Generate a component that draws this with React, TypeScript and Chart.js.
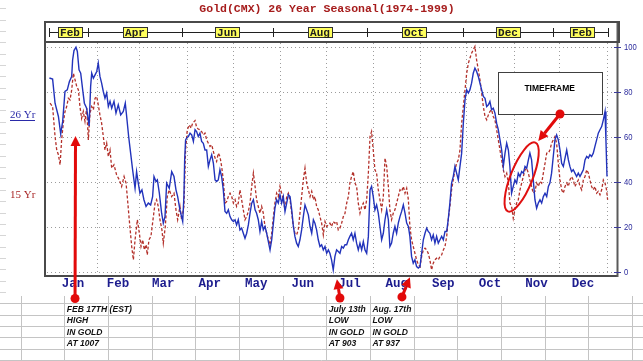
import React, { useEffect, useRef } from "react";
import { Chart, registerables } from "chart.js";

Chart.register(...registerables);

const W = 643;
const H = 361;

const chartTitle = "Gold(CMX) 26 Year Seasonal(1974-1999)";
const monthNames = ["Jan", "Feb", "Mar", "Apr", "May", "Jun", "Jul", "Aug", "Sep", "Oct", "Nov", "Dec"];
const monthEnds = [31, 59, 90, 120, 151, 181, 212, 243, 273, 304, 334, 365];
const yTicks = [0, 20, 40, 60, 80, 100];

const bandLabels = ["Feb", "Apr", "Jun", "Aug", "Oct", "Dec", "Feb"];
const bandCenters = [13.4, 56.3, 116.6, 177.5, 239.1, 300.5, 348.5];
const bandTicks = [0, 25.6, 87, 146.3, 208.3, 270.9, 329.6, 365.8];

// 26 Yr seasonal (blue, solid) — x = day of year, y = index 0..100
const blueDays = [
  0, 2.1, 3.7, 5.9, 7.4, 8.7, 10.2, 11.7, 13.1, 14.6,
  15.2, 16.1, 17.4, 18.3, 19.4, 20.5, 21.8, 22.9, 24.4, 26,
  27, 27.7, 28.8, 29.9, 31, 32, 33.1, 34.2, 35.3, 36.4,
  37.5, 38.6, 39.7, 40.8, 42.3, 43.6, 45.1, 46.7, 48.4, 49.7,
  50.6, 51.9, 53.2, 54.5, 56.1, 57.1, 58.2, 59.3, 60.6, 61.9,
  63.3, 64.8, 66.3, 67.6, 68.5, 69.8, 70.7, 72, 73.5, 74.6,
  75.7, 76.8, 78.5, 80.1, 81.6, 82.9, 84, 85.5, 87.3, 88.1,
  88.6, 89.2,
  89.9, 91, 92.1, 93.2, 94.3, 95.4, 96.4, 97.5, 98.6, 99.7,
  100.8, 101.9, 103, 104.1, 105.2, 106.3, 107.4, 108.5, 109.5, 110.6,
  111.7, 112.8, 113.9, 115, 116.1, 117.2, 118.3, 119.4, 120.5, 121.6,
  122.6, 123.7, 124.8, 125.9, 127, 128.1, 129.2, 130.3, 131.4, 132.5,
  133.6, 134.7, 135.7, 136.8, 137.9, 139, 140.1, 141.2, 142.3, 143.4,
  144.5, 145.6, 146.7, 147.7, 148.8, 149.9, 151, 152.1, 153.2, 154.3,
  155.4, 156.5, 157.6, 158.7, 159.8, 160.8, 161.9, 163, 164.1, 165.2,
  166.3, 167.4, 168.5, 169.6, 170.7, 171.8, 172.9, 173.9, 175, 176.1,
  177.2, 178.3, 179.4, 180.5, 181.6, 182.7, 183.7, 184.8, 185.9, 187,
  188.1, 189.2, 190.3, 191.4, 192.5, 193.6, 194.7, 195.8, 196.8, 197.9,
  199, 200.1, 201.2, 202.3, 203.4, 204.5, 205.6, 206.7, 207.8, 208.9,
  210, 211, 212.1, 213.2, 214.3, 215.4, 216.5, 217.6, 218.7, 219.8,
  220.9, 222, 223, 224.1, 225.2, 226.3, 227.4, 228.5, 229.6, 230.7,
  231.8, 232.9, 234, 235.1, 236.1, 237.2, 238.3, 239.4, 240.5, 241.6,
  242.7, 243.8, 244.9, 246, 247.1, 248.1, 249.2, 250.3, 251.4, 252.5,
  253.6, 254.7, 255.8, 256.9, 258, 259.1, 260.2, 261.2, 262.3, 263.4,
  264.5, 265.6, 266.7, 267.8, 268.9,
  270, 271.1, 272.2, 273.3, 274.4, 275.4, 276.5, 277.6, 278.7, 279.8,
  280.9, 282, 283.1, 284.2, 285.3, 286.4, 287.5, 288.5, 289.6, 290.7,
  291.8, 292.9, 294, 295.1, 296.2, 297.3, 298.4, 299.5, 300.6, 301.6,
  302.7, 303.8, 304.9, 306, 307.1, 308.2, 309.3, 310.4, 311.5, 312.6,
  313.7, 314.7, 315.8, 316.9, 318, 319.1, 320.2, 321.3, 322.4, 323.5,
  324.6, 325.7, 326.8, 327.8, 328.9, 330, 331.1, 332.2, 333.3, 334.4,
  335.5, 336.6, 337.7, 338.8, 339.9, 340.9, 342, 343.1, 344.2, 345.3,
  346.4, 347.5, 348.6, 349.7, 350.8, 351.9, 353, 354, 355.1, 356.2,
  357.3, 358.4, 359.5, 360.6, 361.7, 362.8, 363.9, 364.5, 365.2,
];
const blueVals = [
  86, 85.5, 74.8, 68.9, 61.2, 66.7, 80, 80.7, 84.4, 86.7,
  94, 98.2, 99.7, 97.8, 89.6, 88.1, 80.7, 74.8, 72.6, 64.7,
  82.2, 88.1, 85.9, 87.4, 88.9, 92.6, 86.7, 83.7, 80, 77,
  79.3, 73.3, 75.6, 72.6, 75.6, 70.4, 74.1, 69.6, 71.1, 74.8,
  68.9, 60, 52.6, 45.2, 37, 44.4, 39.3, 34.8, 36.3, 31.9,
  28.9, 30.4, 29.6, 33.3, 42.2, 40, 40.7, 34.8, 25.9, 21.5,
  24.4, 39.3, 37, 44.4, 42.2, 36.3, 33.3, 27.4, 22.2, 33.3,
  50, 58.5,
  59.3, 60, 61.5, 60.7, 57.8, 63, 62.2, 60, 61.5, 57.8,
  57, 54, 54, 46.7, 49.6, 51.9, 48.1, 40.7, 40, 40.7,
  45.2, 42.2, 36.3, 26.7, 25.9, 27.4, 24.4, 23, 22.2, 23,
  20.7, 23, 18.5, 19.3, 17, 14.8, 17, 20.7, 25.9, 30.4,
  31.9, 27.4, 25.9, 23, 17.8, 22.2, 18.5, 20, 17, 13.3,
  9.6, 14.1, 21.5, 28.1, 31.9, 30.4, 34.1, 30.4, 33.3, 26.7,
  30.4, 34.1, 33.3, 27.4, 20, 15.6, 12.6, 11.1, 14.1, 18.5,
  24.4, 29.6, 27.4, 25.2, 20, 17, 23, 21.5, 18.5, 14.1,
  11.1, 11.9, 9.6, 11.1, 8.1, 9.6, 8.1, 5.2, 0.7, 6.7,
  9.6, 8.9, 8.1, 11.1, 10.4, 11.9, 11.9, 14.1, 15.6, 17,
  14.1, 17, 12.6, 9.6, 12.6, 9.6, 13.3, 9.6, 8.1, 15.6,
  36.3, 37.8, 33.3, 27.4, 29.6, 25.9, 20, 14.1, 17, 23,
  27.4, 23, 11.1, 12.6, 17, 20, 17, 21.5, 24.4, 26.7,
  29.6, 25.9, 21.5, 20, 15.6, 6.7, 3.7, 5.2, 2.2, 1.5,
  2.2, 8.1, 14.1, 17, 19.3, 17.8, 17, 14.1, 16.3, 12.6,
  15.6, 12.6, 14.1, 15.6, 14.1, 17.8, 17.8, 23, 30.4, 39.3,
  42.2, 46.7, 43.7, 40.7, 46.7,
  52.6, 65.9, 76.3, 80.7, 79.3, 80.7, 83.7, 88.1, 90.4, 88.9,
  86.7, 83.7, 80.7, 77.8, 77, 73.3, 74.1, 75.6, 71.9, 72.6,
  70.4, 65.9, 63, 58.5, 54, 46.7, 52.6, 57, 54, 46.7,
  34.8, 37.8, 40.7, 39.3, 43.7, 42.2, 44.4, 43.7, 46.7, 45.9,
  49.6, 52.6, 49.6, 40.7, 31.9, 28.1, 30.4, 31.9, 30.4, 33.3,
  34.8, 33.3, 37.8, 39.3, 43.7, 51.1, 58.5, 60.7, 58.5, 54,
  48.1, 46.7, 50.4, 54, 49.6, 46.7, 44.4, 45.2, 43.7, 42.2,
  43.7, 42.2, 43.7, 45.2, 49.6, 51.1, 50.4, 51.9, 51.1, 52.6,
  55.6, 58.5, 61.5, 63, 64.4, 67.4, 71.1, 58.5, 42.2,
];

// 15 Yr seasonal (dark red, dashed)
const redDays = [
  0.4, 2.1, 3.7, 4.8, 5.9, 7, 8, 9.1, 10.2, 11.3,
  12.4, 13.5, 14.6, 15.7, 16.8, 17.9, 19, 20, 21.1, 22.2,
  23.3, 24.4, 25.5, 26.6, 27.7, 28.8, 29.9, 31, 32, 33.1,
  34.2, 35.3, 36.4, 37.5, 38.6, 39.7, 40.8, 42.3, 44, 45.8,
  47.3, 48.9, 50.2, 51, 52.3, 53.9, 55, 56.1, 57.6, 58.9,
  60, 61.1, 62.2, 63.3, 64.1, 65.2, 66.5, 68.1, 69.2, 70.2,
  71.3, 72.4, 73.7, 74.6, 75.9, 77.2, 78.5, 80.1, 81.6, 82.9,
  84, 85.5, 86.6, 88.1, 89.2, 90.3,
  91.6, 92.8, 93.8, 95.4, 96.4, 97.5, 98.6, 99.7, 100.8, 101.9,
  103, 104.1, 105.2, 106.3, 107.4, 108.5, 109.5, 110.6, 111.7, 112.8,
  113.9, 115, 116.1, 117.2, 118.3, 119.4, 120.5, 121.6, 122.6, 123.7,
  124.8, 125.9, 127, 128.1, 129.2, 130.3, 131.4, 132.5, 133.6, 134.7,
  135.7, 136.8, 137.9, 139, 140.1, 141.2, 142.3, 143.4, 144.5, 145.6,
  146.7, 147.7, 148.8, 149.9, 151, 152.1, 153.2, 154.3, 155.4, 156.5,
  157.6, 158.7, 159.8, 160.8, 161.9, 163, 164.1, 165.2, 166.3, 167.4,
  168.5, 169.6, 170.7, 171.8, 172.9, 173.9, 175, 176.1, 177.2, 178.3,
  179.4,
  180.5, 181.6, 182.7, 183.7, 184.8, 185.9, 187, 188.1, 189.2, 190.3,
  191.4, 192.5, 193.6, 194.7, 195.8, 196.8, 197.9, 199, 200.1, 201.2,
  202.3, 203.4, 204.5, 205.6, 206.7, 207.8, 208.9, 210, 211, 212.1,
  213.2, 214.3, 215.4, 216.5, 217.6, 218.7, 219.8, 220.9, 222, 223,
  224.1, 225.2, 226.3, 227.4, 228.5, 229.6, 230.7, 231.8, 232.9, 234,
  235.1, 236.1, 237.2, 238.3, 239.4, 240.5, 241.6, 242.7, 243.8, 244.9,
  246, 247.1, 248.1, 249.2, 250.3, 251.4, 252.5, 253.6, 254.7, 255.8,
  256.9, 258, 259.1, 260.2, 261.2, 262.3, 263.4, 264.5, 265.6, 266.7,
  267.8, 268.9,
  270, 271.1, 272.2, 273.3, 274.4, 275.4, 276.5, 277.6, 278.7, 279.8,
  280.9, 282, 283.1, 284.2, 285.3, 286.4, 287.5, 288.5, 289.6, 290.7,
  291.8, 292.9, 294, 295.1, 296.2, 297.3, 298.4, 299.5, 300.6, 301.6,
  302.7, 303.8, 304.9, 306, 307.1, 308.2, 309.3, 310.4, 311.5, 312.6,
  313.7, 314.7, 315.8, 316.9, 318, 319.1, 320.2, 321.3, 322.4, 323.5,
  324.6, 325.7, 326.8, 327.8, 328.9, 330, 331.1, 332.2, 333.3, 334.4,
  335.5, 336.6, 337.7, 338.8, 339.9, 340.9, 342, 343.1, 344.2, 345.3,
  346.4, 347.5, 348.6, 349.7, 350.8, 351.9, 353, 354, 355.1, 356.2,
  357.3, 358.4, 359.5, 360.6, 361.7, 362.8, 363.9, 364.9, 365.6,
];
const redVals = [
  74.8, 73.3, 60, 54, 51.9, 47.4, 58.5, 66, 71, 73.3,
  77, 76.3, 80.7, 88.1, 85.2, 82.2, 80.7, 73.3, 68.1, 71.1,
  66.7, 72.6, 58.5, 70.4, 73.3, 71.9, 77, 77.8, 74.1, 69.6,
  65.9, 60, 54, 57, 51.1, 54, 45.9, 47.4, 43, 40.7,
  37.8, 42.2, 39.3, 33.3, 23, 11.1, 5.2, 14.1, 23, 17,
  11.1, 14.1, 9.6, 11.9, 7.4, 14.1, 15.6, 24.4, 30.4, 31.9,
  28.9, 23, 18.5, 12.6, 20, 33.3, 36.3, 33.3, 34.8, 27.4,
  23, 28.9, 23, 28.9, 54, 63,
  65.2, 63.7, 65.9, 67.1, 64.1, 63.3, 63, 62.2, 60.7, 61.5,
  58.5, 57, 55.6, 56.3, 53.3, 50.4, 48.9, 52.6, 51.1, 46.7,
  40.7, 30.4, 31.1, 33.3, 34.8, 33.3, 30.4, 31.9, 28.9, 30.4,
  36.3, 31.9, 27.4, 23, 24.4, 26.7, 30.4, 37.8, 43.7, 37.8,
  31.9, 28.9, 25.9, 28.9, 25.9, 20, 17, 14.1, 11.9, 17,
  24.4, 30.4, 34.8, 33.3, 37.8, 34.8, 31.9, 27.4, 33.3, 34.8,
  31.9, 25.9, 20, 17, 16.3, 18.5, 25.9, 33.3, 40.7, 45.9,
  39.3, 36.3, 33.3, 35.6, 31.9, 33.3, 28.9, 27.4, 24.4, 21.5,
  16.3,
  22.2, 20, 20.7, 21.5, 20, 22.2, 21.5, 22.2, 18.5, 19.3,
  21.5, 24.4, 25.9, 30.4, 33.3, 39.3, 42.2, 44.4, 39.3, 37.8,
  30.4, 25.9, 28.9, 30.4, 27.4, 31.9, 43.7, 60, 62.2, 54,
  45.2, 43.7, 36.3, 31.9, 27.4, 33.3, 50.4, 46.7, 37.8, 27.4,
  23, 25.9, 27.4, 30.4, 33.3, 36.3, 35.6, 37.8, 34.8, 37,
  31.9, 20, 14.1, 11.1, 8.1, 5.2, 3, 2.2, 6.7, 9.6,
  10.4, 9.6, 8.1, 5.2, 0.7, 3.7, 5.2, 5.9, 5.2, 6.7,
  7.4, 9.6, 11.1, 15.6, 23, 28.9, 36.3, 40.7, 45.2, 48.1,
  49.6, 54,
  65.9, 73.3, 80.7, 88.1, 92.6, 94.8, 97, 98.5, 100, 94,
  89.6, 85.2, 79.3, 73.3, 68.9, 67.4, 69.6, 71.1, 71.9, 68.9,
  67.4, 63, 58.5, 54, 49.6, 45.2, 42.2, 43.7, 39.3, 30.4,
  28.9, 23.7, 27.4, 30.4, 31.9, 36.3, 39.3, 42.2, 45.2, 45.9,
  43.7, 40.7, 37.8, 34.8, 35.6, 39.3, 37.8, 40, 39.3, 43.7,
  48.1, 52.6, 52.6, 54, 57, 58.5, 60, 57, 48.1, 40.7,
  36.3, 34.8, 37.8, 39.3, 37.8, 40.7, 42.2, 40.7, 37.8, 39.3,
  40.7, 37.8, 36.3, 40.7, 42.2, 45.2, 43.7, 40.7, 37.8, 36.3,
  37.8, 34.8, 35.6, 34.1, 36.3, 40.7, 39.3, 36.3, 31.9,
];

// Annotations (in data units: day of year, index value)
const noteColumns = [1, 7, 8];
const noteLines = [
  ["FEB 17TH (EST)", "HIGH", "IN GOLD", "AT 1007"],
  ["July 13th", "LOW", "IN GOLD", "AT 903"],
  ["Aug. 17th", "LOW", "IN GOLD", "AT 937"],
];
const arrowFrom = [[16.8, -12], [190.3, -11.8], [230.9, -11.3], [334.4, 70]];
const arrowTo = [[17.1, 60.2], [188.3, -3.4], [236.1, -2.6], [320.2, 58]];
const timeframeBox = [293.6, 361.7, 88.8, 70];
const timeframeLabel = "TIMEFRAME";
const ellipseCenter = [309.3, 42];

export default function App() {
  const ref = useRef<HTMLCanvasElement | null>(null);

  useEffect(() => {
    document.body.style.margin = "0";
    const canvas = ref.current;
    if (!canvas) return;

    const line = (ctx: CanvasRenderingContext2D, x1: number, y1: number, x2: number, y2: number) => {
      ctx.beginPath();
      ctx.moveTo(x1, y1);
      ctx.lineTo(x2, y2);
      ctx.stroke();
    };

    const deco = {
      id: "deco",
      beforeDraw(chart: any) {
        const ctx: CanvasRenderingContext2D = chart.ctx;
        ctx.save();
        ctx.fillStyle = "#ffffff";
        ctx.fillRect(0, 0, W, H);
        ctx.strokeStyle = "#c4c4c4";
        ctx.lineWidth = 1;
        const rowStart = 303.3;
        const rowStep = 11.35;
        for (let k = 0; k < 6; k++) {
          const y = Math.round(rowStart + k * rowStep) + 0.5;
          line(ctx, 0, y, W, y);
        }
        for (let k = 0; k < 15; k++) {
          const x = Math.round(20.7 + k * 43.65) + 0.5;
          line(ctx, x, 296, x, H);
        }
        ctx.strokeStyle = "#d6d6d6";
        for (let k = 1; k < 28; k++) {
          const y = Math.round(rowStart - k * rowStep) + 0.5;
          if (y < 0) break;
          line(ctx, 0, y, 6, y);
        }
        ctx.restore();
      },
      beforeDatasetsDraw(chart: any) {
        const ctx: CanvasRenderingContext2D = chart.ctx;
        const xs = chart.scales.x;
        const ys = chart.scales.y;
        const ca = chart.chartArea;
        ctx.save();
        ctx.strokeStyle = "#9c9c9c";
        ctx.lineWidth = 1;
        ctx.setLineDash([1, 3]);
        yTicks.forEach((v) => {
          const y = Math.round(ys.getPixelForValue(v)) + 0.5;
          line(ctx, ca.left + 3, y, ca.right - 3, y);
        });
        monthEnds.forEach((d) => {
          const x = Math.round(xs.getPixelForValue(d)) + 0.5;
          line(ctx, x, ca.top + 1, x, ca.bottom - 1);
        });
        ctx.restore();
      },
      afterDatasetsDraw(chart: any) {
        const ctx: CanvasRenderingContext2D = chart.ctx;
        const xs = chart.scales.x;
        const ys = chart.scales.y;
        const ca = chart.chartArea;
        const px = (d: number) => xs.getPixelForValue(d);
        const py = (v: number) => ys.getPixelForValue(v);
        ctx.save();

        // plot frame
        ctx.strokeStyle = "#4a4a4a";
        ctx.lineWidth = 2;
        line(ctx, ca.left + 1, ca.top, ca.left + 1, ca.bottom + 1);
        line(ctx, ca.left, ca.bottom, ca.right, ca.bottom);
        ctx.strokeStyle = "#5a5a5a";
        line(ctx, ca.right - 0.5, 21, ca.right - 0.5, ca.bottom + 1);

        // top month band
        ctx.strokeStyle = "#4a4a4a";
        ctx.lineWidth = 2;
        ctx.strokeRect(ca.left + 1, 22, ca.right - ca.left, ca.top - 22);
        ctx.lineWidth = 1;
        ctx.strokeStyle = "#202020";
        const bandY = 32.5;
        line(ctx, px(bandTicks[0]), bandY, px(bandTicks[bandTicks.length - 1]), bandY);
        bandTicks.forEach((d) => {
          const x = Math.round(px(d)) + 0.5;
          line(ctx, x, 28, x, 37);
        });
        ctx.font = 'bold 11px "Liberation Mono"';
        ctx.textAlign = "center";
        ctx.textBaseline = "middle";
        bandLabels.forEach((lab, i) => {
          const cx = Math.round(px(bandCenters[i]));
          ctx.fillStyle = "#ffff5c";
          ctx.fillRect(cx - 12, 27.5, 24, 10);
          ctx.strokeStyle = "#303030";
          ctx.strokeRect(cx - 12 + 0.5, 27.5, 24, 10);
          ctx.fillStyle = "#202020";
          ctx.fillText(lab, cx, 33);
        });

        // right axis ticks + labels
        ctx.strokeStyle = "#3a3a9a";
        ctx.lineWidth = 1;
        ctx.fillStyle = "#2a2a9c";
        ctx.font = '9px "Liberation Sans"';
        ctx.textAlign = "left";
        ctx.textBaseline = "middle";
        yTicks.forEach((v) => {
          const y = Math.round(py(v)) + 0.5;
          line(ctx, ca.right - 4, y, ca.right + 3, y);
          ctx.save();
          ctx.translate(ca.right + 6, y);
          ctx.scale(0.85, 1);
          ctx.fillText(String(v), 0, 0);
          ctx.restore();
        });

        // bottom month labels
        ctx.fillStyle = "#1c1c8e";
        ctx.font = 'bold 12.5px "Liberation Mono"';
        ctx.textAlign = "center";
        monthNames.forEach((m, i) => {
          const start = i === 0 ? 0 : monthEnds[i - 1];
          ctx.fillText(m, px((start + monthEnds[i]) / 2), 284);
        });

        // title
        ctx.fillStyle = "#a61c1c";
        ctx.font = 'bold 11.5px "Liberation Mono"';
        ctx.fillText(chartTitle, 327, 9.5);

        // left series labels
        ctx.textAlign = "left";
        ctx.font = '11px "Liberation Serif"';
        ctx.fillStyle = "#2a2aa8";
        ctx.fillText(chart.data.datasets[0].label, 10, 115);
        ctx.strokeStyle = "#2a2aa8";
        line(ctx, 10, 120.5, 35, 120.5);
        ctx.fillStyle = "#a82424";
        ctx.fillText(chart.data.datasets[1].label, 10, 195);

        // TIMEFRAME box
        const bx1 = px(timeframeBox[0]);
        const bx2 = px(timeframeBox[1]);
        const by1 = py(timeframeBox[2]);
        const by2 = py(timeframeBox[3]);
        ctx.fillStyle = "#ffffff";
        ctx.fillRect(bx1, by1, bx2 - bx1, by2 - by1);
        ctx.strokeStyle = "#404040";
        ctx.lineWidth = 1;
        ctx.strokeRect(Math.round(bx1) + 0.5, Math.round(by1) + 0.5, Math.round(bx2 - bx1), Math.round(by2 - by1));
        ctx.fillStyle = "#000000";
        ctx.font = 'bold 8.5px "Liberation Sans"';
        ctx.textAlign = "center";
        ctx.fillText(timeframeLabel, (bx1 + bx2) / 2, by1 + 17);

        // red ellipse
        ctx.strokeStyle = "#e01010";
        ctx.lineWidth = 2;
        ctx.beginPath();
        ctx.ellipse(px(ellipseCenter[0]), py(ellipseCenter[1]), 11, 37, 0.38, 0, Math.PI * 2);
        ctx.stroke();

        // red arrows
        arrowFrom.forEach((f, i) => {
          const x1 = px(f[0]);
          const y1 = py(f[1]);
          const x2 = px(arrowTo[i][0]);
          const y2 = py(arrowTo[i][1]);
          const ang = Math.atan2(y2 - y1, x2 - x1);
          const hl = 10;
          const hw = 5;
          const bxp = x2 - hl * Math.cos(ang);
          const byp = y2 - hl * Math.sin(ang);
          ctx.strokeStyle = "#e20a0a";
          ctx.fillStyle = "#e20a0a";
          ctx.lineWidth = 3;
          line(ctx, x1, y1, bxp, byp);
          ctx.beginPath();
          ctx.moveTo(x2, y2);
          ctx.lineTo(bxp + hw * Math.sin(ang), byp - hw * Math.cos(ang));
          ctx.lineTo(bxp - hw * Math.sin(ang), byp + hw * Math.cos(ang));
          ctx.closePath();
          ctx.fill();
          ctx.beginPath();
          ctx.arc(x1, y1, 4.5, 0, Math.PI * 2);
          ctx.fill();
        });

        // notes in spreadsheet cells
        ctx.fillStyle = "#111111";
        ctx.font = 'italic bold 9.5px "Liberation Sans"';
        ctx.textAlign = "left";
        ctx.textBaseline = "middle";
        noteColumns.forEach((col, ci) => {
          const x = 20.7 + col * 43.65 + 2.5;
          noteLines[ci].forEach((t, ri) => {
            const y = 303.3 + 11.35 * ri + 5.9;
            ctx.save();
            ctx.translate(x, y);
            ctx.scale(0.9, 1);
            ctx.fillText(t, 0, 0);
            ctx.restore();
          });
        });

        ctx.restore();
      },
    };

    const chart = new Chart(canvas, {
      type: "line",
      data: {
        datasets: [
          {
            label: "26 Yr",
            data: blueDays.map((d, i) => ({ x: d, y: blueVals[i] })),
            borderColor: "#2233bb",
            borderWidth: 1.4,
            pointRadius: 0,
            tension: 0,
            fill: false,
          },
          {
            label: "15 Yr",
            data: redDays.map((d, i) => ({ x: d, y: redVals[i] })),
            borderColor: "#b3302a",
            borderWidth: 1.3,
            borderDash: [3, 2],
            pointRadius: 0,
            tension: 0,
            fill: false,
          },
        ],
      },
      options: {
        animation: false,
        responsive: false,
        devicePixelRatio: 1,
        events: [],
        layout: { padding: { left: 44, right: 25, top: 42, bottom: 85 } },
        plugins: {
          legend: { display: false },
          tooltip: { enabled: false },
          title: { display: false },
        },
        scales: {
          x: { type: "linear", min: -3.54, max: 372.4, display: false },
          y: { type: "linear", min: -2, max: 102, display: false },
        },
      },
      plugins: [deco],
    });

    return () => chart.destroy();
  }, []);

  return (
    <div style={{ position: "absolute", left: 0, top: 0, width: W, height: H, background: "#fff" }}>
      <canvas ref={ref} width={W} height={H} style={{ display: "block", width: W, height: H }} />
    </div>
  );
}
